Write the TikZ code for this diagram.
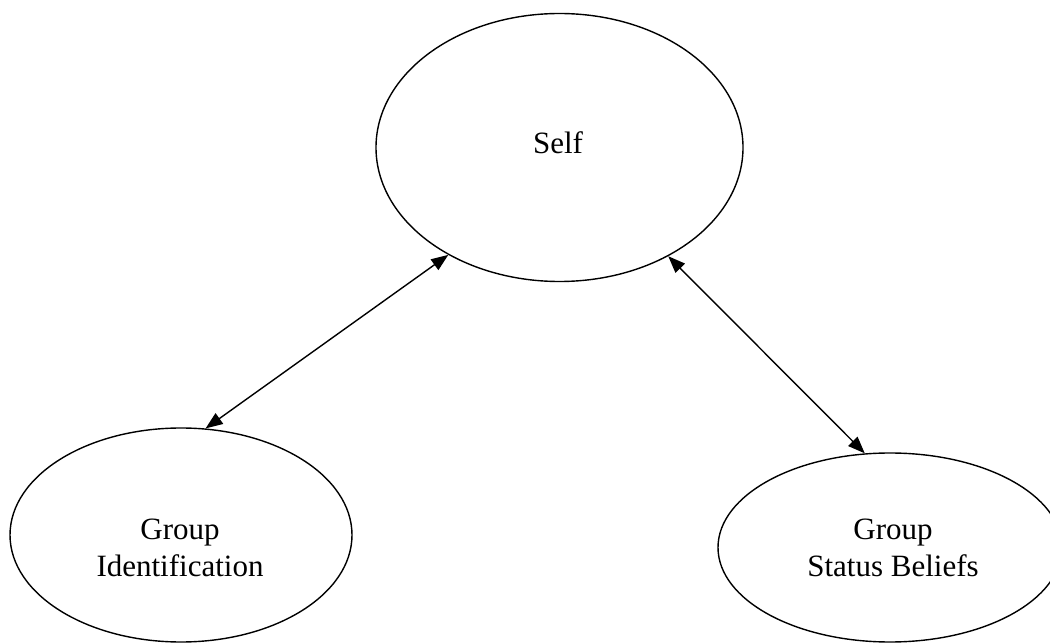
\documentclass[tikz,border=0pt]{standalone}
\usepackage{fontspec}
\setmainfont{Liberation Serif}
\usetikzlibrary{shapes.geometric,arrows.meta}
\begin{document}
\begin{tikzpicture}[x=1pt,y=-1pt,
  oval/.style={draw, ellipse, line width=1.4pt, inner sep=0pt},
  lbl/.style={font=\fontsize{31}{36.5}\selectfont, align=center, inner sep=0pt},
  link/.style={line width=1.4pt, {Triangle[length=17pt,width=13pt]}-{Triangle[length=17pt,width=13pt]}}]
\useasboundingbox (0,0) rectangle (1050,644);
\clip (0,0) rectangle (1050,644);
\fill[white] (0,0) rectangle (1050,644);
\node[oval, minimum width=367pt, minimum height=268pt] (self) at (559.5,147.5) {};
\node[oval, minimum width=342pt, minimum height=214pt] (gi) at (181,535) {};
\node[oval, minimum width=344pt, minimum height=189pt] (gsb) at (890,547.5) {};
\node[lbl, anchor=base] (tself) at (558,154) {Self};
\node[lbl] (tgi) at (180,548) {Group\\Identification};
\node[lbl] (tgsb) at (893,548) {Group\\Status Beliefs};
\draw[link] (self.224) -- (gi.77);
\draw[link] (self.315) -- (gsb.105);
\end{tikzpicture}
\end{document}
